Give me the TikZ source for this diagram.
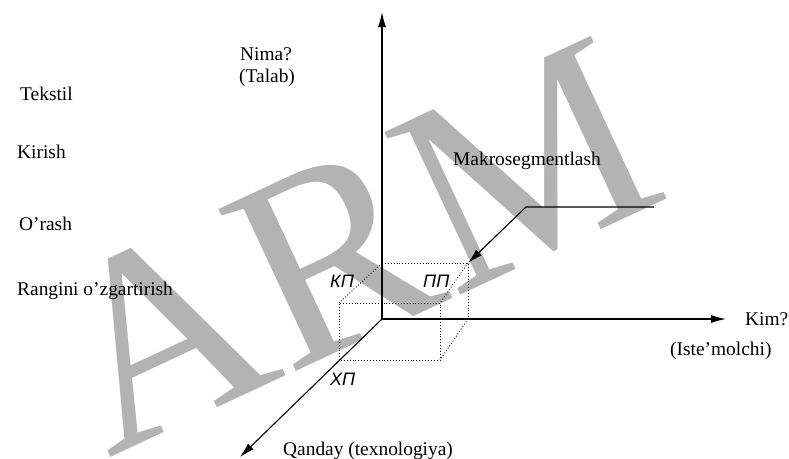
\documentclass[tikz,border=0pt]{standalone}
\usepackage{fontspec}
\setmainfont{Liberation Serif}
\newfontfamily\lsans{Liberation Sans}
\usetikzlibrary{arrows.meta}
\definecolor{wmgray}{HTML}{B3B3B3}
\begin{document}
\begin{tikzpicture}[x=1pt,y=-1pt,
  lbl/.style={anchor=base west,inner sep=0pt,font=\fontsize{19.4}{23}\selectfont},
  cyr/.style={anchor=base west,inner sep=0pt,font=\lsans\itshape\fontsize{18}{20}\selectfont},
  axis/.style={line width=1.1pt,-{Latex[length=15pt,width=8pt]}},
  cube/.style={dotted,line width=0.9pt},
  wm/.style={rotate=25,anchor=base,inner sep=0pt,text=wmgray,font=\fontsize{274}{274}\selectfont}]
\useasboundingbox (0,0) rectangle (789,458);
% watermark
\node[wm] (wmark) at (391,327) {ARM};
% coordinates
\coordinate (O) at (382,319);
\coordinate (top) at (382,12);
\coordinate (right) at (726,319);
\coordinate (diag) at (240,457);
\coordinate (b1) at (382,263);
\coordinate (b2) at (468,263);
\coordinate (b3) at (468,319);
\coordinate (f1) at (339,303);
\coordinate (f2) at (440,303);
\coordinate (f3) at (440,360);
\coordinate (f4) at (339,360);
\coordinate (m1) at (654,207);
\coordinate (m2) at (526,207);
% cube
\draw[cube] (b1) -- (b2) -- (b3);
\draw[cube] (f4) -- (f1) -- (f2) -- (f3) -- (f4);
\draw[cube] (b1) -- (f1);
\draw[cube] (b2) -- (f2);
\draw[cube] (b3) -- (f3);
% axes
\draw[axis] (O) -- (top);
\draw[axis] (O) -- (right);
\draw[axis] (O) -- (diag);
% makrosegment arrow
\draw[line width=1.1pt,-{Latex[length=15pt,width=8pt]}] (m1) -- (m2) -- (b2);
% labels
\node[lbl] (nima) at (240,60) {Nima?};
\node[lbl] (talab) at (239,82) {(Talab)};
\node[lbl] (tekstil) at (20,100) {Tekstil};
\node[lbl] (kirish) at (17,158) {Kirish};
\node[lbl] (orash) at (19,230) {O’rash};
\node[lbl] (rangini) at (17,295) {Rangini o’zgartirish};
\node[lbl] (makro) at (453,165) {Makrosegmentlash};
\node[lbl] (kim) at (745,325) {Kim?};
\node[lbl] (iste) at (670,355) {(Iste'molchi)};
\node[lbl] (qanday) at (283,455) {Qanday (texnologiya)};
\node[cyr] (kp) at (330,287) {КП};
\node[cyr] (pp) at (423,287) {ПП};
\node[cyr] (xp) at (330,385) {ХП};
\end{tikzpicture}
\end{document}
